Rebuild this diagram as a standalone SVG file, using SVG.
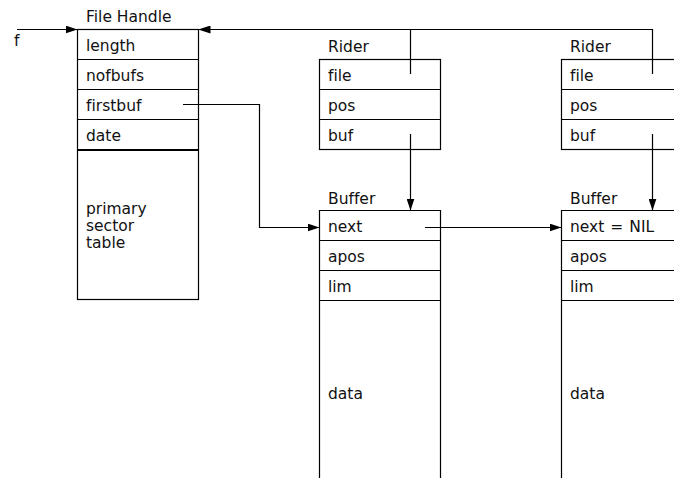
<svg xmlns="http://www.w3.org/2000/svg" width="674" height="478" viewBox="0 0 674 478">
<defs>
<marker id="ah" markerWidth="12" markerHeight="8" refX="12" refY="4" orient="auto" markerUnits="userSpaceOnUse">
<path d="M0,0 L12,4 L0,8 Z" fill="#000"/>
</marker>
</defs>
<style>
text{font-family:"DejaVu Sans","Liberation Sans",sans-serif;font-size:15.5px;fill:#111;font-variant-ligatures:none}
.b{fill:#fff;stroke:#000;stroke-width:1.2}
.l{stroke:#000;stroke-width:1.2;fill:none}
.c{stroke:#000;stroke-width:1.2;fill:none}
</style>
<rect width="674" height="478" fill="#fff"/>
<g id="filehandle">
<text x="86" y="22">File Handle</text>
<rect class="b" x="77.5" y="29.5" width="121" height="270"/>
<line class="l" x1="77.5" y1="59.5" x2="198.5" y2="59.5"/>
<line class="l" x1="77.5" y1="89.5" x2="198.5" y2="89.5"/>
<line class="l" x1="77.5" y1="119.5" x2="198.5" y2="119.5"/>
<line x1="77.5" y1="150" x2="198.5" y2="150" stroke="#000" stroke-width="2"/>
<text x="86" y="51">length</text>
<text x="86" y="81">nofbufs</text>
<text x="86" y="111">firstbuf</text>
<text x="86" y="141">date</text>
<text x="86" y="214">primary</text>
<text x="86" y="231">sector</text>
<text x="86" y="248">table</text>
</g>
<g id="rider1">
<text x="328" y="52">Rider</text>
<rect class="b" x="319.5" y="59.5" width="121" height="90"/>
<line class="l" x1="319.5" y1="89.5" x2="440.5" y2="89.5"/>
<line class="l" x1="319.5" y1="119.5" x2="440.5" y2="119.5"/>
<text x="328" y="81">file</text>
<text x="328" y="111">pos</text>
<text x="328" y="141">buf</text>
</g>
<g id="rider2">
<text x="570" y="52">Rider</text>
<rect class="b" x="561.5" y="59.5" width="130" height="90"/>
<line class="l" x1="561.5" y1="89.5" x2="674" y2="89.5"/>
<line class="l" x1="561.5" y1="119.5" x2="674" y2="119.5"/>
<text x="570" y="81">file</text>
<text x="570" y="111">pos</text>
<text x="570" y="141">buf</text>
</g>
<g id="buffer1">
<text x="328" y="204">Buffer</text>
<path class="l" d="M319.5,480 V210.5 H440.5 V480"/>
<line class="l" x1="319.5" y1="240.5" x2="440.5" y2="240.5"/>
<line class="l" x1="319.5" y1="270.5" x2="440.5" y2="270.5"/>
<line class="l" x1="319.5" y1="300.5" x2="440.5" y2="300.5"/>
<text x="328" y="232">next</text>
<text x="328" y="262">apos</text>
<text x="328" y="292">lim</text>
<text x="328" y="399">data</text>
</g>
<g id="buffer2">
<text x="570" y="204">Buffer</text>
<path class="l" d="M561.5,480 V210.5 H680"/>
<line class="l" x1="561.5" y1="240.5" x2="674" y2="240.5"/>
<line class="l" x1="561.5" y1="270.5" x2="674" y2="270.5"/>
<line class="l" x1="561.5" y1="300.5" x2="674" y2="300.5"/>
<text x="570" y="232">next<tspan dx="6">=</tspan><tspan dx="6">NIL</tspan></text>
<text x="570" y="262">apos</text>
<text x="570" y="292">lim</text>
<text x="570" y="399">data</text>
</g>
<g id="connectors">
<line class="c" x1="17" y1="29.5" x2="77.5" y2="29.5" marker-end="url(#ah)"/>
<text x="14" y="46">f</text>
<path class="c" d="M410.5,74 V29.5 H198.5" marker-end="url(#ah)"/>
<path class="c" d="M652.5,74 V29.5 H410.5"/>
<path class="c" d="M183,104.5 H259.5 V227.5 H319.5" marker-end="url(#ah)"/>
<path class="c" d="M410.5,134 V210.5" marker-end="url(#ah)"/>
<path class="c" d="M652.5,134 V210.5" marker-end="url(#ah)"/>
<path class="c" d="M425,227.5 H561.5" marker-end="url(#ah)"/>
</g>
</svg>
